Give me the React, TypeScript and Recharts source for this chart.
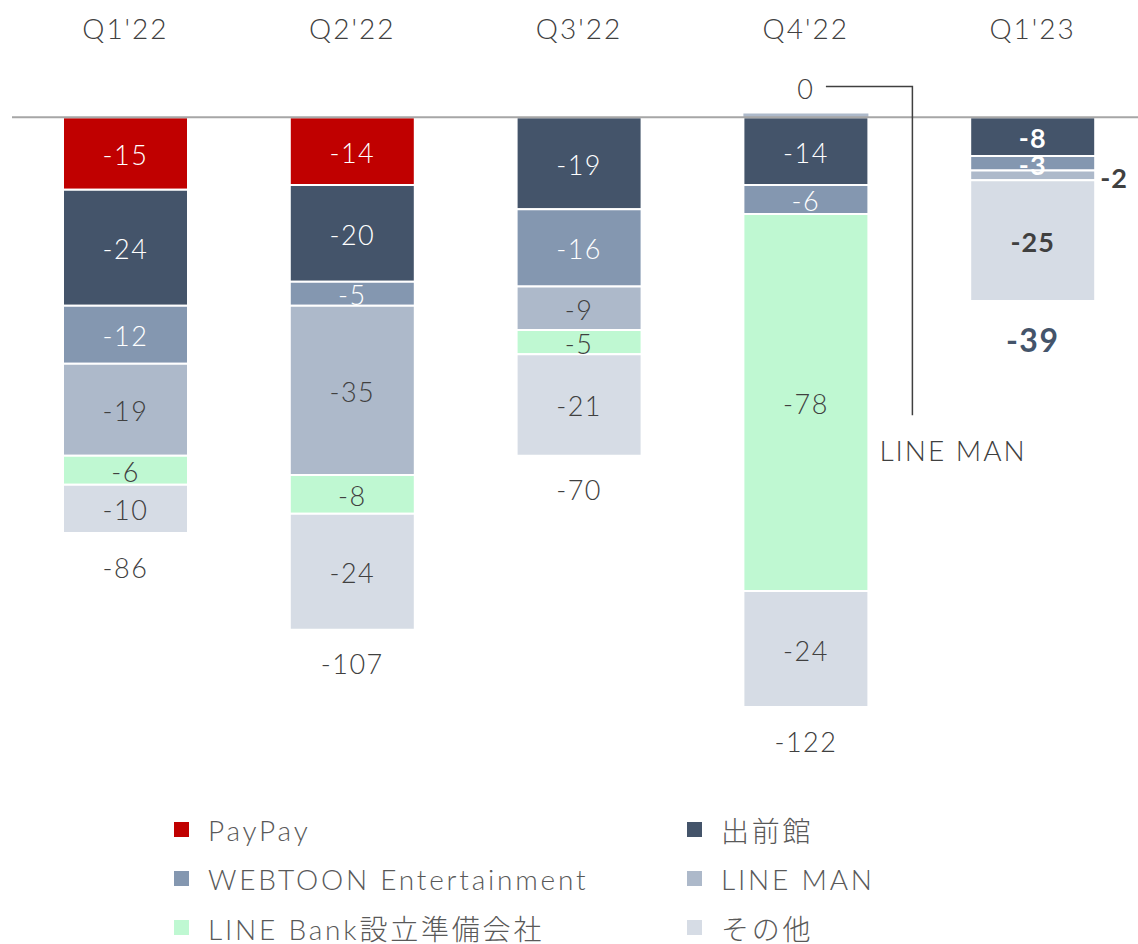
import { BarChart, Bar, XAxis, YAxis, ReferenceLine, LabelList, Cell } from 'recharts';

const categories = ["Q1'22", "Q2'22", "Q3'22", "Q4'22", "Q1'23"];
const paypay = [-15, -14, 0, 0, 0];
const demaekan = [-24, -20, -19, -14, -8];
const webtoon = [-12, -5, -16, -6, -3];
const lineMan = [-19, -35, -9, 0.8, -2];
const lineBank = [-6, -8, -5, -78, 0];
const others = [-10, -24, -21, -24, -25];
const totals = [-86, -107, -70, -122, -39];
const calloutText = '0';

const FONT = "Lato, 'Noto Sans CJK JP', sans-serif";
const TEXT = '#404040';

const series = [
    { key: 'paypay', name: 'PayPay', color: '#c00000', labelColor: '#ffffff' },
    { key: 'demaekan', name: '出前館', color: '#44546a', labelColor: '#ffffff' },
    { key: 'webtoon', name: 'WEBTOON Entertainment', color: '#8497b0', labelColor: '#ffffff' },
    { key: 'lineMan', name: 'LINE MAN', color: '#adb9ca', labelColor: TEXT },
    { key: 'lineBank', name: 'LINE Bank設立準備会社', color: '#bff8d2', labelColor: TEXT },
    { key: 'others', name: 'その他', color: '#d6dce5', labelColor: TEXT },
];

const data = categories.map((name, i) => ({
    name,
    paypay: paypay[i],
    demaekan: demaekan[i],
    webtoon: webtoon[i],
    lineMan: lineMan[i],
    lineBank: lineBank[i],
    others: others[i],
}));

const lastIndex = categories.length - 1;

const makeSegmentLabel = (key: string, color: string) => (props: any) => {
    const { x, y, width, height, value, index } = props;
    if (value === 0 || value == null) return null;
    const top = Math.min(y, y + height);
    const bottom = Math.max(y, y + height);
    const bold = index === lastIndex;

    if (key === 'lineMan' && value > 0) {
        // callout: 0 -> LINE MAN
        const cx = x + width / 2;
        const right = x + width;
        return (
            <g>
                <text x={cx} y={top - 25} textAnchor="middle" dominantBaseline="central"
                    fontFamily={FONT} fontWeight={300} fontSize={27} letterSpacing={1.5} fill={TEXT}>{calloutText}</text>
                <polyline points={`${cx + 20},${top - 27} ${right + 44},${top - 27} ${right + 44},${bottom + 298}`}
                    fill="none" stroke={TEXT} strokeWidth={1.5} />
                <text x={right + 11} y={bottom + 333} textAnchor="start" dominantBaseline="central"
                    fontFamily={FONT} fontWeight={300} fontSize={28} letterSpacing={2} fill={TEXT}>LINE MAN</text>
            </g>
        );
    }

    if (key === 'lineMan' && index === lastIndex) {
        return (
            <text x={x + width + 5} y={(top + bottom) / 2 + 2} textAnchor="start" dominantBaseline="central"
                fontFamily={FONT} fontWeight={700} fontSize={27} letterSpacing={1} fill={TEXT}>{value}</text>
        );
    }

    return (
        <text x={x + width / 2} y={(top + bottom) / 2 + 1} textAnchor="middle" dominantBaseline="central"
            fontFamily={FONT} fontWeight={bold ? 700 : 300} fontSize={27} letterSpacing={bold ? 1 : 1.5}
            fill={color}>{value}</text>
    );
};

const TotalLabel = (props: any) => {
    const { x, y, width, height, index } = props;
    const bottom = Math.max(y, y + height);
    const bold = index === lastIndex;
    return (
        <text x={x + width / 2} y={bottom + (bold ? 38 : 34)} textAnchor="middle" dominantBaseline="central"
            fontFamily={FONT} fontWeight={bold ? 700 : 300} fontSize={bold ? 32 : 27} letterSpacing={1.5}
            fill={bold ? '#44546a' : TEXT}>{totals[index]}</text>
    );
};

const CategoryTick = ({ x, y, payload }: any) => (
    <text x={x} y={y} dy={-33} textAnchor="middle" dominantBaseline="central"
        fontFamily={FONT} fontWeight={300} fontSize={28} letterSpacing={2} fill={TEXT}>{payload.value}</text>
);

export default function App() {
    return (
        <div style={{ position: 'absolute', left: 0, top: 0, width: 1138, height: 944, overflow: 'hidden', background: '#fff' }}>
            <BarChart
                width={1146}
                height={794}
                data={data}
                stackOffset="sign"
                margin={{ top: 0, right: 0, left: 12, bottom: 0 }}
            >
                <XAxis dataKey="name" orientation="top" height={69} axisLine={false} tickLine={false}
                    tick={<CategoryTick />} interval={0} />
                <YAxis type="number" domain={[-140, 10]} hide />
                {series.map((s) => (
                    <Bar key={s.key} dataKey={s.key} stackId="a" fill={s.color} barSize={125}
                        stroke="#ffffff" strokeWidth={2} isAnimationActive={false}>
                        {s.key === 'lineMan' && data.map((d, i) => (
                            <Cell key={i} stroke={d.lineMan > 0 ? 'none' : '#ffffff'} />
                        ))}
                        <LabelList dataKey={s.key} content={makeSegmentLabel(s.key, s.labelColor)} />
                        {s.key === 'others' && <LabelList dataKey="others" content={<TotalLabel />} />}
                    </Bar>
                ))}
                <ReferenceLine y={0} stroke="#a6a6a6" strokeWidth={2} />
            </BarChart>
            <div style={{
                position: 'absolute', left: 174, top: 805, display: 'grid',
                gridTemplateColumns: '513px 320px',
                fontFamily: FONT, fontWeight: 300, fontSize: 28, letterSpacing: 2.8, color: '#595959',
            }}>
                {series.map((s) => (
                    <div key={s.key} style={{ display: 'flex', alignItems: 'center', height: 49, whiteSpace: 'nowrap' }}>
                        <span style={{ display: 'inline-block', width: 15, height: 15, background: s.color, marginRight: 19 }} />
                        <span>{s.name}</span>
                    </div>
                ))}
            </div>
        </div>
    );
}
